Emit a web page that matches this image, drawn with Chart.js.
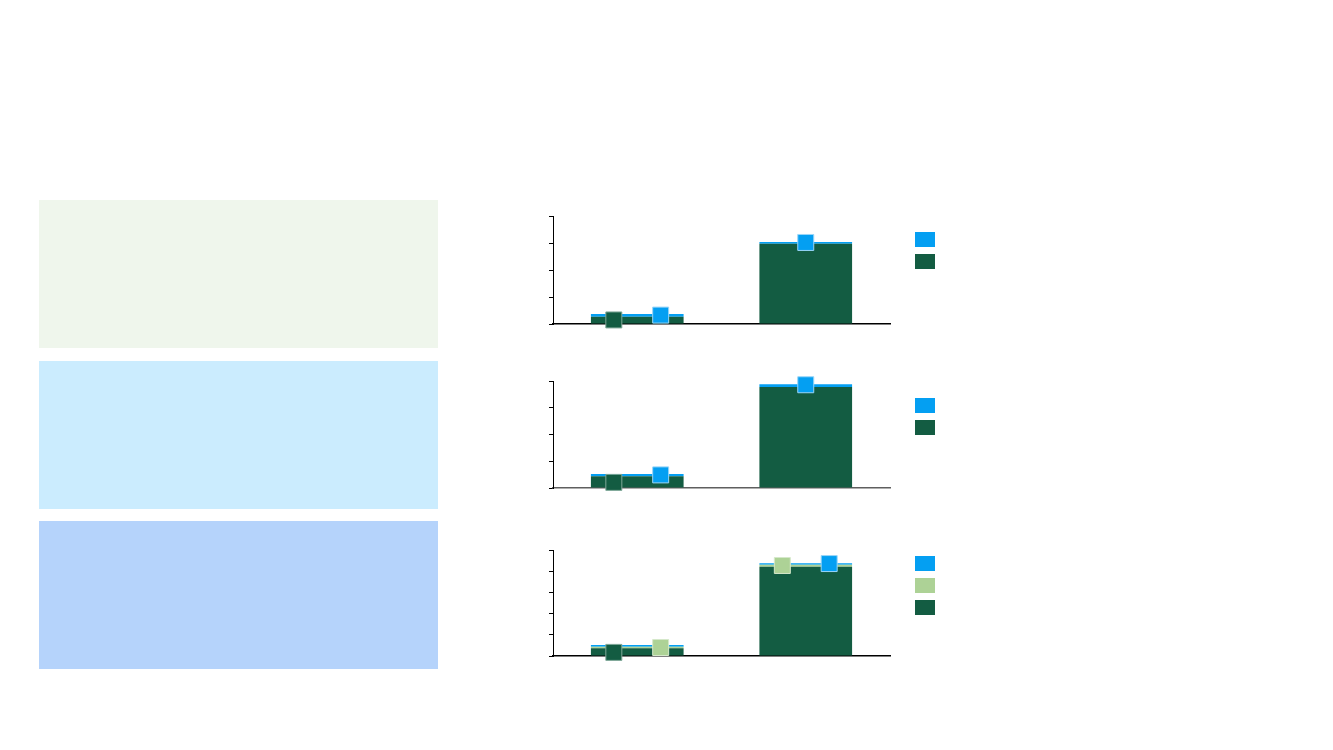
<!DOCTYPE html>
<html>
<head>
<meta charset="utf-8">
<script src="https://cdn.jsdelivr.net/npm/chart.js@4.4.1/dist/chart.umd.min.js"></script>
<style>
  html, body { margin: 0; padding: 0; background: #ffffff; }
  body { width: 1333px; height: 750px; position: relative; overflow: hidden; font-family: "Liberation Sans", Arial, sans-serif; }
  .panel { position: absolute; left: 39px; width: 399px; height: 148px; }
  canvas.chart { position: absolute; }
  .leg { position: absolute; width: 20px; height: 15px; }
</style>
</head>
<body>
<div class="panel" style="top:200px;background:#EFF6EC;"></div>
<div class="panel" style="top:361px;background:#CBECFE;"></div>
<div class="panel" style="top:521px;background:#B5D3FB;"></div>

<canvas id="c1" class="chart" width="400" height="128" style="left:500px;top:206px;"></canvas>
<canvas id="c2" class="chart" width="400" height="127" style="left:500px;top:371px;"></canvas>
<canvas id="c3" class="chart" width="400" height="126" style="left:500px;top:540px;"></canvas>

<script>
// ---- data ----
const categories = ['Category 1', 'Category 2'];

// chart 1
const c1Base = [0.27, 2.97];
const c1Top = [0.10, 0.07];
const c1MarkDark = [0.15, null];
const c1MarkBlue = [0.33, 3.02];
const c1Max = 4;

// chart 2
const c2Base = [0.44, 3.78];
const c2Top = [0.08, 0.10];
const c2MarkDark = [0.21, null];
const c2MarkBlue = [0.49, 3.86];
const c2Max = 4;

// chart 3
const c3Base = [0.36, 4.21];
const c3Mid = [0.08, 0.09];
const c3Top = [0.08, 0.08];
const c3MarkDark = [0.17, null];
const c3MarkLight = [0.40, 4.27];
const c3MarkBlue = [null, 4.36];
const c3Max = 5;

// ---- styles ----
const DARK = '#135C42';
const BLUE = '#049FF2';
const LIGHT = '#ADD296';
const BORDER = { [DARK]: '#7fa898', [BLUE]: '#9ad6f8', [LIGHT]: '#d6e9cb' };

// place markers of each category side by side (slot layout)
function markerSets(markSeries) {
  const out = markSeries.map(() => []);
  categories.forEach((c, ci) => {
    const present = markSeries.map((s, si) => s[ci] != null ? si : -1).filter(v => v >= 0);
    const n = present.length;
    present.forEach((si, k) => {
      const off = n === 1 ? 0 : (k - (n - 1) / 2) * 0.278;
      out[si].push({ x: ci + off, y: markSeries[si][ci] });
    });
  });
  return out;
}

function makeChart(id, bars, marks, maxV, xBorderColor) {
  const sets = markerSets(marks.map(m => m.data));
  const datasets = [];
  bars.forEach(b => {
    datasets.push({
      type: 'bar', data: b.data, backgroundColor: b.color, borderWidth: 0,
      xAxisID: 'x', yAxisID: 'y', order: 2, stack: 'main', grouped: false,
      barPercentage: 0.55, categoryPercentage: 1.0
    });
  });
  marks.forEach((m, i) => {
    datasets.push({
      type: 'scatter', data: sets[i], backgroundColor: m.color, borderColor: BORDER[m.color],
      borderWidth: 1, pointStyle: 'rect', pointRadius: 11.3, pointHoverRadius: 11.3,
      xAxisID: 'x2', yAxisID: 'y2', order: 1, stack: 'mk' + i, clip: false
    });
  });
  new Chart(document.getElementById(id), {
    type: 'bar',
    data: { labels: categories, datasets },
    options: {
      responsive: false, animation: false,
      layout: { autoPadding: false, padding: { left: 49, right: 10, top: 10, bottom: 10 } },
      plugins: { legend: { display: false }, tooltip: { enabled: false } },
      events: [],
      scales: {
        x: {
          type: 'category', stacked: true, offset: true,
          grid: { display: false, drawTicks: false },
          ticks: { display: false },
          border: { display: true, color: xBorderColor, width: 1.5 }
        },
        y: {
          type: 'linear', stacked: true, min: 0, max: maxV,
          ticks: { display: false, stepSize: 1 },
          grid: { drawOnChartArea: false, drawTicks: true, tickLength: 4, color: '#000', lineWidth: 1 },
          border: { display: true, color: '#000', width: 1 }
        },
        x2: { type: 'linear', display: false, offset: false, min: -0.5, max: 1.5 },
        y2: { type: 'linear', display: false, offset: false, min: 0, max: maxV }
      }
    }
  });
}

makeChart('c1',
  [{ data: c1Base, color: DARK }, { data: c1Top, color: BLUE }],
  [{ data: c1MarkDark, color: DARK }, { data: c1MarkBlue, color: BLUE }],
  c1Max, '#000');
makeChart('c2',
  [{ data: c2Base, color: DARK }, { data: c2Top, color: BLUE }],
  [{ data: c2MarkDark, color: DARK }, { data: c2MarkBlue, color: BLUE }],
  c2Max, '#5f5f5f');
makeChart('c3',
  [{ data: c3Base, color: DARK }, { data: c3Mid, color: LIGHT }, { data: c3Top, color: BLUE }],
  [{ data: c3MarkDark, color: DARK }, { data: c3MarkLight, color: LIGHT }, { data: c3MarkBlue, color: BLUE }],
  c3Max, '#000');

// legends (swatches only, top of stack first)
const legends = [
  { top: 232, colors: [BLUE, DARK] },
  { top: 398, colors: [BLUE, DARK] },
  { top: 556, colors: [BLUE, LIGHT, DARK] }
];
legends.forEach(l => {
  l.colors.forEach((c, i) => {
    const d = document.createElement('div');
    d.className = 'leg';
    d.style.left = '915px';
    d.style.top = (l.top + i * 22) + 'px';
    d.style.background = c;
    document.body.appendChild(d);
  });
});
</script>
</body>
</html>
